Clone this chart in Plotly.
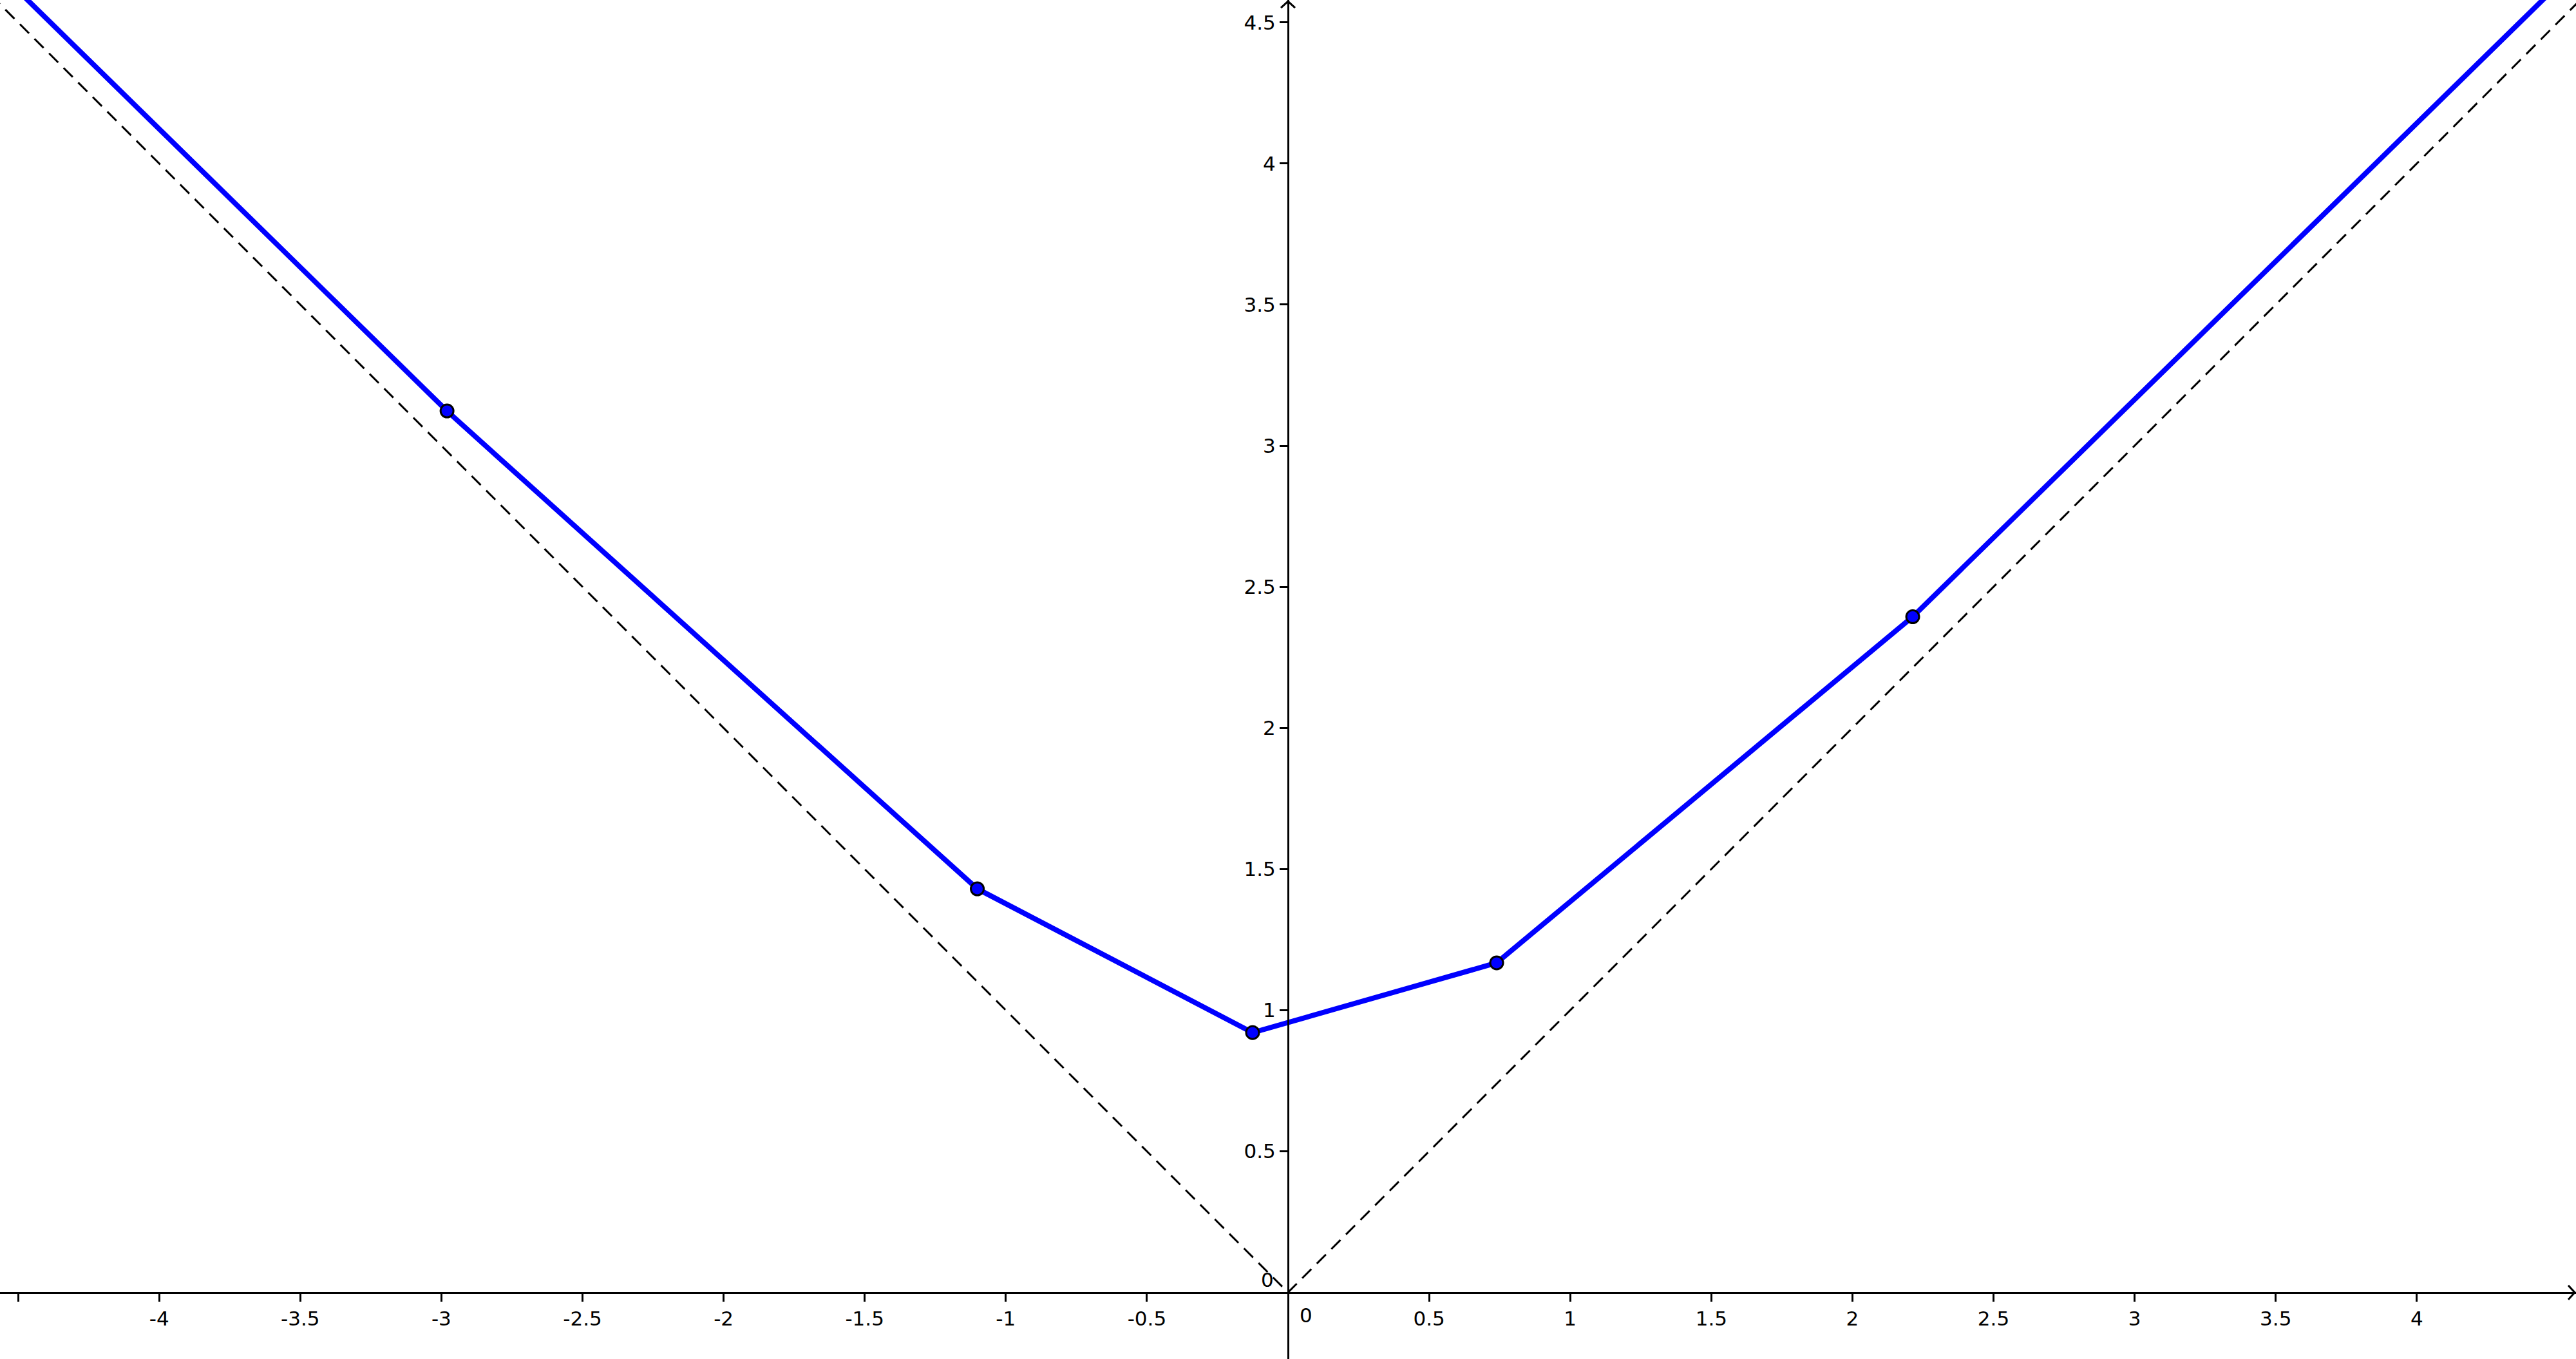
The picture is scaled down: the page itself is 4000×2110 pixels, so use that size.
import plotly.graph_objects as go

# Data
curve_x = [-4.60, -2.980, -1.101, -0.1255, 0.7394, 2.2136, 4.60]
curve_y = [4.71, 3.123, 1.430, 0.9206, 1.1677, 2.394, 4.73]
point_x = [-2.980, -1.101, -0.1255, 0.7394, 2.2136]
point_y = [3.123, 1.430, 0.9206, 1.1677, 2.394]
asym_x = [-4.7, 0.0, 4.7]
asym_y = [4.7, 0.0, 4.7]

x_ticks = [-4.5, -4, -3.5, -3, -2.5, -2, -1.5, -1, -0.5, 0.5, 1, 1.5, 2, 2.5, 3, 3.5, 4]
x_labels = ["", "-4", "-3.5", "-3", "-2.5", "-2", "-1.5", "-1", "-0.5", "0.5", "1", "1.5",
            "2", "2.5", "3", "3.5", "4"]
y_ticks = [0.5, 1, 1.5, 2, 2.5, 3, 3.5, 4, 4.5]
y_labels = ["0.5", "1", "1.5", "2", "2.5", "3", "3.5", "4", "4.5"]

X_RANGE = [-4.564, 4.564]
Y_RANGE = [-0.2357, 4.579]

FONT = "DejaVu Sans"
fig = go.Figure()
fig.add_trace(go.Scatter(x=asym_x, y=asym_y, mode="lines",
                         line=dict(color="black", width=3, dash="20px,12px"),
                         hoverinfo="skip", showlegend=False))
fig.add_trace(go.Scatter(x=curve_x, y=curve_y, mode="lines",
                         line=dict(color="#0000ff", width=8),
                         showlegend=False))
fig.add_trace(go.Scatter(x=point_x, y=point_y, mode="markers",
                         marker=dict(color="#0000ff", size=20,
                                     line=dict(color="black", width=3)),
                         showlegend=False))

ypos = (0 - Y_RANGE[0]) / (Y_RANGE[1] - Y_RANGE[0])
xpos = (0 - X_RANGE[0]) / (X_RANGE[1] - X_RANGE[0])

fig.update_layout(
    width=4000, height=2110,
    margin=dict(l=0, r=0, t=0, b=0),
    plot_bgcolor="white", paper_bgcolor="white",
    font=dict(family=FONT, size=31, color="black"),
    xaxis=dict(range=X_RANGE, anchor="free", position=ypos,
               showline=True, linecolor="black", linewidth=3,
               ticks="outside", ticklen=12, tickwidth=3, tickcolor="black",
               tickvals=x_ticks, ticktext=x_labels,
               showgrid=False, zeroline=False),
    yaxis=dict(range=Y_RANGE, anchor="free", position=xpos,
               showline=True, linecolor="black", linewidth=3,
               ticks="outside", ticklen=12, tickwidth=3, tickcolor="black",
               tickvals=y_ticks, ticktext=y_labels,
               showgrid=False, zeroline=False,
               scaleanchor="x", scaleratio=1, constrain="domain"),
    shapes=[
        dict(type="path", xref="x", yref="y", xsizemode="pixel", ysizemode="pixel",
             xanchor=X_RANGE[1], yanchor=0, path="M -12 11 L -2 0 L -12 -11",
             line=dict(color="black", width=3)),
        dict(type="path", xref="x", yref="y", xsizemode="pixel", ysizemode="pixel",
             xanchor=0, yanchor=Y_RANGE[1], path="M -11 -12 L 0 -2 L 11 -12",
             line=dict(color="black", width=3)),
    ],
    annotations=[
        dict(x=0, y=0, xref="x", yref="y", text="0", showarrow=False,
             xanchor="center", yanchor="middle", xshift=28, yshift=-35,
             font=dict(family=FONT, size=31)),
        dict(x=0, y=0, xref="x", yref="y", text="0", showarrow=False,
             xanchor="center", yanchor="middle", xshift=-32, yshift=20,
             font=dict(family=FONT, size=31)),
    ],
)

fig.write_html("out.html", config={"displayModeBar": False},
               post_script="document.body.style.margin='0';document.body.style.overflow='hidden';")
